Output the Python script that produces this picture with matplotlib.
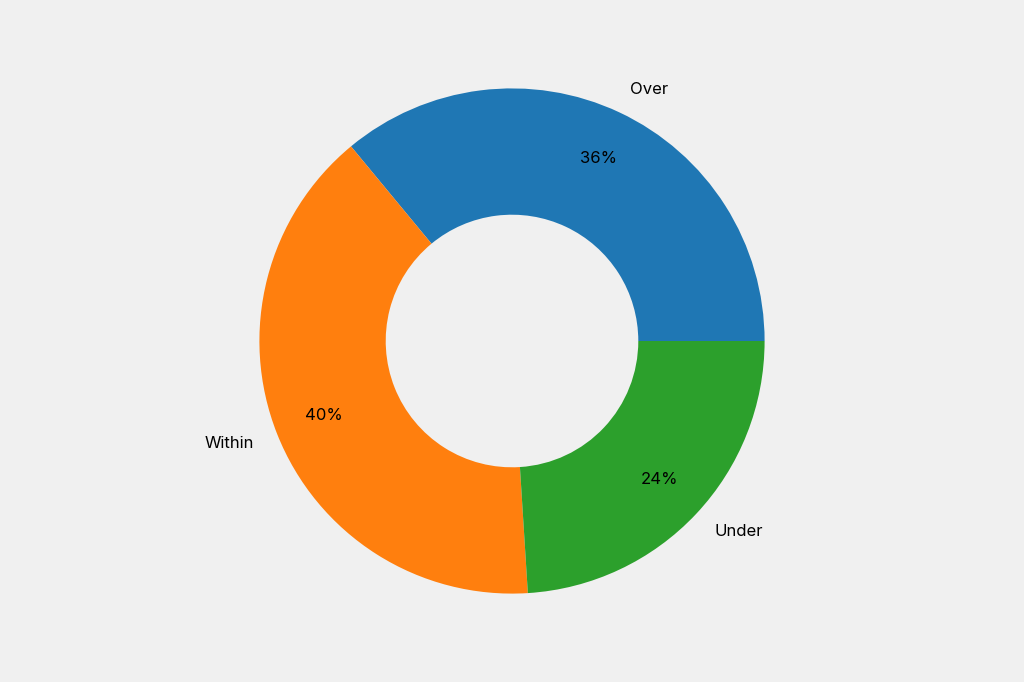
import matplotlib.pyplot as plt

labels = ['Over', 'Within', 'Under']
values = [36, 40, 24]
colors = ['#1f77b4', '#ff7f0e', '#2ca02c']

plt.rcParams['font.family'] = ['Inter', 'DejaVu Sans']

fig = plt.figure(figsize=(10.24, 6.82), dpi=100, facecolor='#f0f0f0')
ax = fig.add_axes([0, 0, 1, 1])
ax.set_facecolor('#f0f0f0')

ax.pie(values, labels=labels, colors=colors, autopct='%1.0f%%',
       startangle=0, pctdistance=0.8, labeldistance=1.1,
       wedgeprops=dict(width=0.5), textprops=dict(fontsize=12))
ax.set_aspect('equal')
ax.set_ylim(-1.35, 1.35)
ax.set_xlim(-1.35 * 1024 / 682, 1.35 * 1024 / 682)
ax.axis('off')

fig.savefig('out.png', dpi=100, facecolor=fig.get_facecolor())
